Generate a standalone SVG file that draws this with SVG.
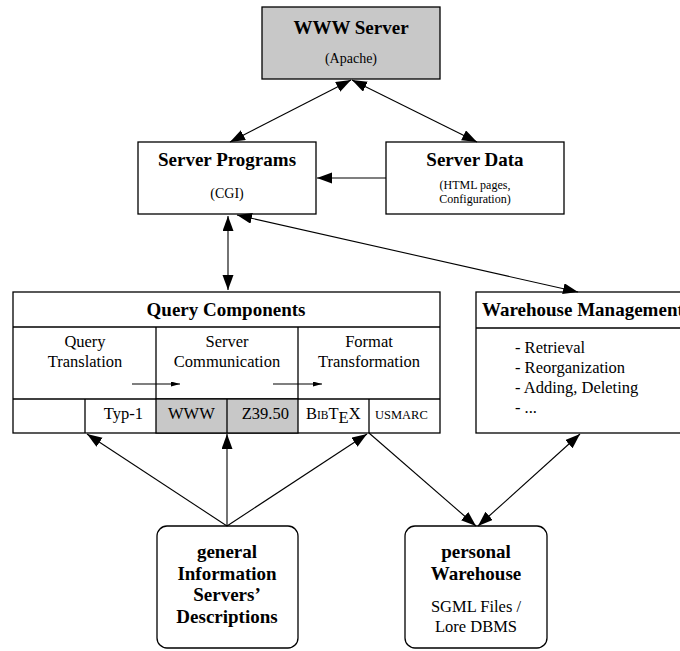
<svg xmlns="http://www.w3.org/2000/svg" width="680" height="651" viewBox="0 0 680 651">
<style>
.box{fill:#fff;stroke:#000;stroke-width:1.3}
.gray{fill:#c8c8c8;stroke:#000;stroke-width:1.3}
.ln{fill:none;stroke:#000;stroke-width:1.3}
.t{font-family:"Liberation Serif","Times New Roman",serif;fill:#000}
.b{font-weight:bold;font-size:19px}
.n{font-size:16.5px}
.s{font-size:14px}
.xs{font-size:12px}
.c{fill:none;stroke:#000;stroke-width:1.1}
</style>
<defs>
<marker id="ah" markerUnits="userSpaceOnUse" markerWidth="16" markerHeight="12" refX="15" refY="5.5" orient="auto-start-reverse">
<path d="M0,0 L15,5.5 L0,11 z" fill="#000"/>
</marker>
<marker id="sh" markerUnits="userSpaceOnUse" markerWidth="10" markerHeight="6" refX="9" refY="2.5" orient="auto">
<path d="M0,0 L9,2.5 L0,5 z" fill="#000"/>
</marker>
</defs>

<g id="www-server">
<rect class="gray" x="262" y="7" width="178" height="72"/>
<text class="t b" x="351" y="34" text-anchor="middle">WWW Server</text>
<text class="t s" x="351" y="63" text-anchor="middle">(Apache)</text>
</g>

<g id="server-programs">
<rect class="box" x="138" y="142" width="178" height="72"/>
<text class="t b" x="227" y="166" text-anchor="middle">Server Programs</text>
<text class="t s" x="227" y="198" text-anchor="middle">(CGI)</text>
</g>

<g id="server-data">
<rect class="box" x="386" y="142" width="178" height="72"/>
<text class="t b" x="475" y="166" text-anchor="middle">Server Data</text>
<text class="t xs" x="475" y="189" text-anchor="middle">(HTML pages,</text>
<text class="t xs" x="475" y="203" text-anchor="middle">Configuration)</text>
</g>

<g id="query-components">
<rect class="box" x="13" y="292" width="427" height="141"/>
<line class="ln" x1="13" y1="327" x2="440" y2="327"/>
<line class="ln" x1="13" y1="399" x2="440" y2="399"/>
<line class="ln" x1="156" y1="327" x2="156" y2="399"/>
<line class="ln" x1="298" y1="327" x2="298" y2="399"/>
<rect class="gray" x="156" y="399" width="142" height="34"/>
<line class="ln" x1="85" y1="399" x2="85" y2="433"/>
<line class="ln" x1="227" y1="399" x2="227" y2="433"/>
<line class="ln" x1="369" y1="399" x2="369" y2="433"/>
<text class="t b" x="226" y="316" text-anchor="middle">Query Components</text>
<text class="t n" x="85" y="347" text-anchor="middle">Query</text>
<text class="t n" x="85" y="367" text-anchor="middle">Translation</text>
<text class="t n" x="227" y="347" text-anchor="middle">Server</text>
<text class="t n" x="227" y="367" text-anchor="middle">Communication</text>
<text class="t n" x="369" y="347" text-anchor="middle">Format</text>
<text class="t n" x="369" y="367" text-anchor="middle">Transformation</text>
<line class="c" x1="132" y1="384" x2="180" y2="384" marker-end="url(#sh)"/>
<line class="c" x1="273" y1="384" x2="322" y2="384" marker-end="url(#sh)"/>
<text class="t n" x="143" y="419" text-anchor="end">Typ-1</text>
<text class="t n" x="168" y="419">WWW</text>
<text class="t n" x="289" y="419" text-anchor="end">Z39.50</text>
<text class="t n" x="306" y="419">B<tspan font-size="11.5px">IB</tspan>T<tspan dy="4">E</tspan><tspan dy="-4">X</tspan></text>
<text class="t" x="375" y="419" font-size="12.5px">USMARC</text>
</g>

<g id="warehouse-management">
<rect class="box" x="476" y="292" width="214" height="141"/>
<line class="ln" x1="476" y1="328" x2="690" y2="328"/>
<text class="t b" x="482" y="316">Warehouse Management</text>
<text class="t n" x="515" y="353">- Retrieval</text>
<text class="t n" x="515" y="373">- Reorganization</text>
<text class="t n" x="515" y="393">- Adding, Deleting</text>
<text class="t n" x="515" y="413">- ...</text>
</g>

<g id="general-information">
<rect class="box" x="157" y="526" width="141" height="122" rx="10"/>
<text class="t b" x="227" y="558" text-anchor="middle">general</text>
<text class="t b" x="227" y="580" text-anchor="middle">Information</text>
<text class="t b" x="227" y="601" text-anchor="middle">Servers’</text>
<text class="t b" x="227" y="623" text-anchor="middle">Descriptions</text>
</g>

<g id="personal-warehouse">
<rect class="box" x="405" y="526" width="142" height="122" rx="10"/>
<text class="t b" x="476" y="558" text-anchor="middle">personal</text>
<text class="t b" x="476" y="580" text-anchor="middle">Warehouse</text>
<text class="t n" x="476" y="612" text-anchor="middle">SGML Files /</text>
<text class="t n" x="476" y="632" text-anchor="middle">Lore DBMS</text>
</g>

<g id="connectors">
<line class="c" x1="230" y1="142" x2="351" y2="80" marker-start="url(#ah)" marker-end="url(#ah)"/>
<line class="c" x1="477" y1="142" x2="352" y2="80" marker-start="url(#ah)" marker-end="url(#ah)"/>
<line class="c" x1="386" y1="178" x2="317" y2="178" marker-end="url(#ah)"/>
<line class="c" x1="228" y1="216" x2="228" y2="290" marker-start="url(#ah)" marker-end="url(#ah)"/>
<line class="c" x1="237" y1="215" x2="578" y2="292" marker-start="url(#ah)" marker-end="url(#ah)"/>
<line class="c" x1="227" y1="526" x2="87" y2="434" marker-end="url(#ah)"/>
<line class="c" x1="227" y1="526" x2="227" y2="434" marker-end="url(#ah)"/>
<line class="c" x1="227" y1="526" x2="367" y2="434" marker-end="url(#ah)"/>
<line class="c" x1="369" y1="433" x2="476" y2="526" marker-end="url(#ah)"/>
<line class="c" x1="580" y1="434" x2="478" y2="526" marker-start="url(#ah)" marker-end="url(#ah)"/>
</g>
</svg>
